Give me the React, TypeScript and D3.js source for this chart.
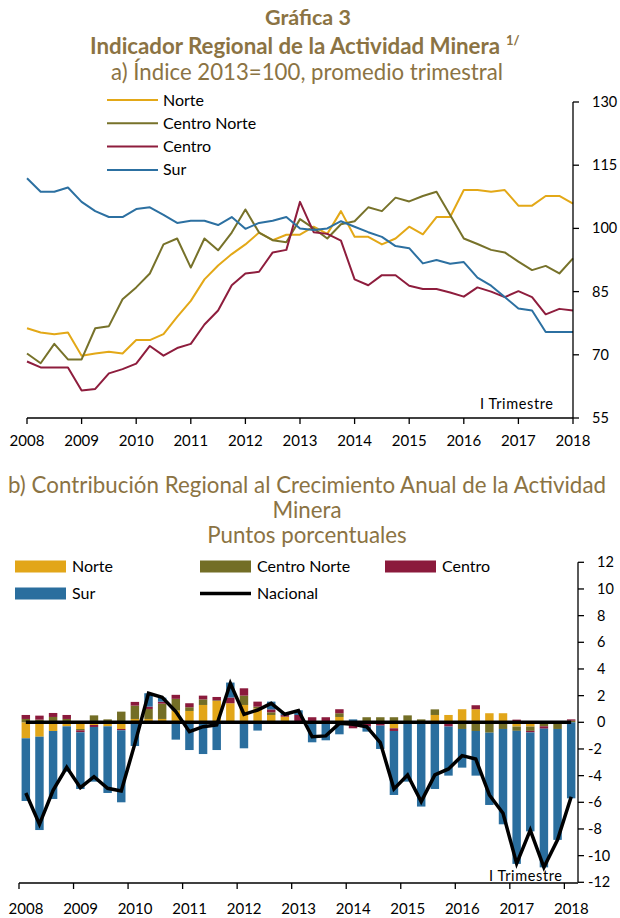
import React from "react";
import * as d3 from "d3";

const years = [2008, 2009, 2010, 2011, 2012, 2013, 2014, 2015, 2016, 2017, 2018];
const topTicks = [55, 70, 85, 100, 115, 130];
const botTicks = [-12, -10, -8, -6, -4, -2, 0, 2, 4, 6, 8, 10, 12];

const norte = [76.3, 75.3, 74.9, 75.3, 69.8, 70.3, 70.7, 70.3, 73.5, 73.5, 74.9, 79.0, 82.8, 87.9, 91.2, 93.9, 96.2, 99.0, 97.2, 98.5, 98.5, 100.4, 98.7, 104.1, 98.0, 98.0, 96.2, 97.6, 100.4, 98.6, 102.7, 102.7, 109.1, 109.1, 108.7, 109.1, 105.4, 105.4, 107.7, 107.7, 105.9];
const centroNorte = [70.3, 68.0, 72.6, 68.9, 68.9, 76.3, 76.8, 83.2, 86.0, 89.3, 96.2, 97.6, 90.7, 97.6, 94.8, 99.0, 104.5, 99.0, 97.2, 96.7, 102.2, 100.0, 97.6, 101.0, 101.7, 105.0, 104.1, 107.3, 106.4, 107.7, 108.7, 103.2, 97.6, 96.3, 94.9, 94.3, 92.1, 90.1, 91.1, 89.3, 92.9];
const centro = [68.4, 67.0, 67.0, 67.0, 61.5, 61.9, 65.6, 66.6, 67.9, 72.1, 69.8, 71.6, 72.6, 77.2, 80.5, 86.5, 89.3, 89.7, 94.3, 94.9, 106.3, 99.1, 98.7, 97.1, 87.9, 86.5, 88.9, 88.9, 86.4, 85.6, 85.6, 84.8, 83.8, 86.0, 85.0, 83.7, 85.1, 83.7, 79.6, 80.9, 80.5];
const sur = [111.9, 108.7, 108.7, 109.7, 106.3, 104.1, 102.7, 102.7, 104.6, 105.0, 103.2, 101.3, 101.8, 101.8, 100.8, 102.7, 99.9, 101.3, 101.8, 102.7, 100.0, 99.6, 100.0, 101.7, 100.4, 99.1, 98.0, 95.8, 95.3, 91.7, 92.5, 91.6, 92.0, 88.3, 86.4, 83.7, 81.0, 80.5, 75.4, 75.4, 75.4];

const cNorte = [-1.2, -1.08, -0.65, -0.3, -0.5, -0.2, -0.3, -0.5, 0.25, 0.25, 0.25, 0.88, 0.85, 1.3, 1.6, 1.43, 1.3, 1.05, 0.55, 0.42, 0, 0, 0, 0.4, 0, 0, -0.05, -0.45, 0, 0, 0.55, 0.55, 0.98, 0.98, 0.68, 0.68, -0.32, -0.32, -0.1, 0, 0];
const cCentroNorte = [0.25, 0.2, 0.4, 0.25, -0.1, 0.52, 0.22, 0.8, 1.0, 0.75, 1.15, 0.88, 0.28, 0.42, 0.05, 0, 0.7, 0.12, 0.2, 0, 0, 0, 0, 0.28, 0, 0.38, 0.38, 0.38, 0.52, 0.22, 0.42, 0, -0.5, -0.65, -0.78, -0.5, -0.32, -0.32, -0.2, -0.5, 0.12];
const cCentro = [0.3, 0.3, 0.3, 0.3, -0.15, -0.15, 0, -0.1, 0.28, 0.18, 0.15, 0.3, 0.3, 0.28, 0.25, 0.43, 0.55, 0.38, 0.22, 0.12, 0.55, 0.38, 0.38, 0.3, -0.45, -0.32, -0.2, -0.2, 0, 0, 0, -0.32, 0, 0.3, 0, 0, 0.2, -0.12, -0.18, 0, 0.1];
const cSur = [-4.7, -7.0, -5.1, -3.4, -4.25, -4.1, -5.0, -5.4, -1.78, 1.0, 0.3, -1.3, -2.08, -2.38, -2.08, 1.12, -1.95, -0.62, 0.58, 0.15, 0.35, -1.5, -1.35, -0.9, 0.22, -0.38, -1.75, -4.8, -4.45, -6.32, -5.0, -3.68, -2.9, -3.35, -5.42, -7.15, -9.98, -7.42, -10.4, -8.32, -5.7];
const nacional = [-5.3, -7.65, -5.1, -3.38, -4.9, -4.08, -4.95, -5.15, -1.6, 2.18, 1.88, 0.8, -0.7, -0.33, -0.2, 2.92, 0.6, 0.92, 1.42, 0.6, 0.88, -1.08, -1.02, -0.08, -0.15, -0.33, -1.52, -5.0, -3.95, -5.95, -3.95, -3.5, -2.5, -2.75, -5.45, -6.82, -10.6, -8.08, -10.88, -8.82, -5.58];

const seriesNames = ["Norte", "Centro Norte", "Centro", "Sur"];
const lineColors = ["#E3A817", "#77722A", "#8E1D3D", "#2C70A1"];
const barColors = ["#E2A619", "#736E26", "#8B1A3C", "#2A6E9E"];
const titleColor = "#8B7343";
const font = "Lato, 'Open Sans', sans-serif";

export default function App() {
  const n = norte.length;
  const idx = d3.range(n);

  // Top chart scales
  const xT = d3.scaleLinear().domain([0, n - 1]).range([27, 573]);
  const yT = d3.scaleLinear().domain([55, 130]).range([418, 102]);
  const lineGen = d3.line<number>().x((_, i) => xT(i)).y((d) => yT(d));
  const topSeries = [norte, centroNorte, centro, sur];

  // Bottom chart scales
  const xB = d3.scaleBand<number>().domain(idx).range([19, 578]).paddingInner(0.38).paddingOuter(0.19);
  const step = xB.step();
  const bw = xB.bandwidth();
  const cx = (i: number) => (xB(i) as number) + bw / 2;
  const yB = d3.scaleLinear().domain([-12, 12]).range([882.3, 562.3]);
  const table = idx.map((i) => ({ i, a: cNorte[i], b: cCentroNorte[i], c: cCentro[i], d: cSur[i] }));
  const stack = d3.stack<any>().keys(["a", "b", "c", "d"]).offset(d3.stackOffsetDiverging);
  const stacked = stack(table);
  const natLine = d3.line<number>().x((_, i) => cx(i)).y((d) => yB(d));

  return (
    <svg width={620} height={918} style={{ position: "absolute", left: 0, top: 0, background: "#fff" }} fontFamily={font}>
      {/* Titles */}
      <text x={308} y={25} textAnchor="middle" fontSize={21.5} fontWeight="bold" fill={titleColor}>Gráfica 3</text>
      <text x={90} y={53.5} fontSize={22.3} fontWeight="bold" fill={titleColor} textLength={410} lengthAdjust="spacing">Indicador Regional de la Actividad Minera</text>
      <text x={506} y={45} fontSize={13} fontWeight="bold" fill={titleColor}>1/</text>
      <text x={111} y={80} fontSize={22.2} fill={titleColor} textLength={392} lengthAdjust="spacing">a) Índice 2013=100, promedio trimestral</text>

      {/* Top legend */}
      {seriesNames.map((s, k) => (
        <g key={s}>
          <line x1={107} x2={158} y1={100 + k * 23.3} y2={100 + k * 23.3} stroke={lineColors[k]} strokeWidth={2} />
          <text x={163} y={105.5 + k * 23.3} fontSize={16} fill="#000">{s}</text>
        </g>
      ))}

      {/* Top lines */}
      {topSeries.map((s, k) => (
        <path key={k} d={lineGen(s) as string} fill="none" stroke={lineColors[k]} strokeWidth={2} strokeLinejoin="round" />
      ))}

      {/* Top axes */}
      <line x1={27} x2={573} y1={418} y2={418} stroke="#000" strokeWidth={1.3} />
      {years.map((y, k) => (
        <g key={y}>
          <line x1={xT(k * 4)} x2={xT(k * 4)} y1={418} y2={424} stroke="#000" strokeWidth={1.3} />
          <text x={xT(k * 4)} y={446} textAnchor="middle" fontSize={15} fill="#000">{y}</text>
        </g>
      ))}
      <line x1={573} x2={573} y1={102} y2={418} stroke="#000" strokeWidth={1.3} />
      {topTicks.map((t) => (
        <g key={t}>
          <line x1={573} x2={579} y1={yT(t)} y2={yT(t)} stroke="#000" strokeWidth={1.3} />
          <text x={592} y={yT(t) + 5} fontSize={14.5} fill="#000">{t}</text>
        </g>
      ))}
      <text x={480} y={409} fontSize={14.5} fill="#000" textLength={73} lengthAdjust="spacing">I Trimestre</text>

      {/* Bottom titles */}
      <text x={8} y={493} fontSize={22.3} fill={titleColor} textLength={598} lengthAdjust="spacing">b) Contribución Regional al Crecimiento Anual de la Actividad</text>
      <text x={307} y={518} textAnchor="middle" fontSize={22.3} fill={titleColor}>Minera</text>
      <text x={307} y={543} textAnchor="middle" fontSize={22.3} fill={titleColor}>Puntos porcentuales</text>

      {/* Bottom legend */}
      {[
        { name: "Norte", x: 15, y: 566.5, c: barColors[0] },
        { name: "Centro Norte", x: 200, y: 566.5, c: barColors[1] },
        { name: "Centro", x: 385, y: 566.5, c: barColors[2] },
        { name: "Sur", x: 15, y: 593.5, c: barColors[3] },
      ].map((l) => (
        <g key={l.name}>
          <rect x={l.x} y={l.y - 6} width={51} height={12} fill={l.c} />
          <text x={l.x + 57} y={l.y + 5.5} fontSize={16} fill="#000">{l.name}</text>
        </g>
      ))}
      <line x1={200} x2={251} y1={593.5} y2={593.5} stroke="#000" strokeWidth={3.5} />
      <text x={257} y={599} fontSize={16} fill="#000">Nacional</text>

      {/* Bars */}
      {stacked.map((layer, k) => (
        <g key={k} fill={barColors[k]}>
          {layer.map((d, i) => {
            const y0 = yB(d[0]);
            const y1 = yB(d[1]);
            const h = Math.abs(y0 - y1);
            if (h < 0.01) return null;
            return <rect key={i} x={xB(i)} y={Math.min(y0, y1)} width={bw} height={h} />;
          })}
        </g>
      ))}

      {/* Zero line & nacional */}
      <line x1={cx(0)} x2={cx(n - 1)} y1={yB(0)} y2={yB(0)} stroke="#000" strokeWidth={3.5} />
      <path d={natLine(nacional) as string} fill="none" stroke="#000" strokeWidth={3.5} strokeLinejoin="miter" />

      {/* Bottom axes */}
      <line x1={19} x2={578} y1={883} y2={883} stroke="#000" strokeWidth={1.3} />
      {years.map((y, k) => {
        const tx = (xB(k * 4) as number) - (step - bw) / 2;
        return (
          <g key={y}>
            <line x1={tx} x2={tx} y1={883} y2={889} stroke="#000" strokeWidth={1.3} />
            <text x={tx + 7} y={914} textAnchor="middle" fontSize={15} fill="#000">{y}</text>
          </g>
        );
      })}
      <line x1={578} x2={578} y1={yB(12)} y2={yB(-12)} stroke="#000" strokeWidth={1.3} />
      {botTicks.map((t) => (
        <g key={t}>
          <line x1={578} x2={584} y1={yB(t)} y2={yB(t)} stroke="#000" strokeWidth={1.3} />
          <text x={t < 0 ? 588 : 597} y={yB(t) + 5} fontSize={14.5} fill="#000">{t < 0 ? "-" + Math.abs(t) : String(t)}</text>
        </g>
      ))}
      <text x={489} y={881} fontSize={14.5} fill="#000" textLength={73} lengthAdjust="spacing">I Trimestre</text>
    </svg>
  );
}
